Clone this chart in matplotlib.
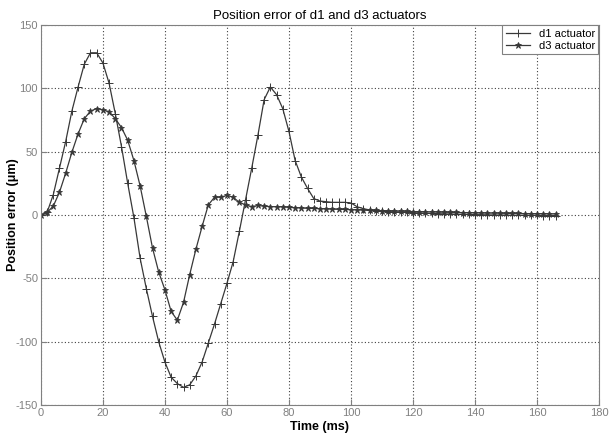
import numpy as np
import matplotlib.pyplot as plt

plt.rcParams['font.family'] = ['Liberation Sans', 'DejaVu Sans']
plt.rcParams['axes.unicode_minus'] = False

# === Data (2 ms sampling) ===
time_ms = np.arange(0, 168, 2)

d1_err = [0, 2, 16, 37, 58, 82, 101, 119, 128, 128,
          120, 104, 80, 54, 25, -2, -34, -58, -80, -100,
          -116, -128, -133, -136, -134, -127, -116, -101, -86, -70,
          -54, -37, -13, 12, 37, 63, 91, 101, 95, 84,
          66, 43, 30, 21, 13, 11, 10.5, 10, 10, 10,
          9.5, 6.5, 5, 4, 3.5, 3, 2.7, 2.4, 2.2, 2,
          1.8, 1.6, 1.4, 1.2, 1, 0.9, 0.8, 0.6, 0.5, 0.4,
          0.3, 0.2, 0.1, 0, 0, -0.1, -0.2, -0.2, -0.3, -0.3,
          -0.3, -0.4, -0.4, -0.4]

d3_err = [0, 2, 7, 18, 33, 49.5, 64, 76, 82, 84,
          83, 81.5, 76, 69, 59, 43, 23, -1, -26, -45,
          -59, -76, -83, -69, -47, -27, -9, 8, 14, 14,
          15.5, 14, 10, 8, 6.6, 7.5, 7, 6.6, 6.5, 6.4,
          6, 5.8, 5.5, 5.3, 5.2, 5, 4.8, 4.6, 4.5, 4.4,
          4.2, 4, 3.9, 3.7, 3.6, 3.4, 3.3, 3.1, 3, 2.9,
          2.7, 2.6, 2.5, 2.4, 2.3, 2.2, 2.1, 2, 1.9, 1.8,
          1.7, 1.6, 1.5, 1.5, 1.4, 1.3, 1.3, 1.2, 1.1, 1.1,
          1, 1, 0.9, 0.9]

# === Plot ===
fig = plt.figure(figsize=(6.1, 4.37), dpi=100)
ax = fig.add_axes([0.067, 0.073, 0.915, 0.870])

ax.plot(time_ms, d1_err, color='#383838', lw=0.9, marker='+', ms=5.5,
        mew=0.7, label='d1 actuator')
ax.plot(time_ms, d3_err, color='#383838', lw=0.9, marker='*', ms=4.5,
        mew=0.6, label='d3 actuator')

ax.set_xlim(0, 180)
ax.set_ylim(-150, 150)
ax.set_xticks(np.arange(0, 181, 20))
ax.set_yticks(np.arange(-150, 151, 50))
ax.grid(True, linestyle=(0, (1, 2)), color='#404040', lw=0.8)
ax.tick_params(direction='in', labelsize=8, colors='#808080', labelcolor='#808080',
               length=4, pad=2)
for s in ax.spines.values():
    s.set_color('#808080')

ax.set_title('Position error of d1 and d3 actuators', fontsize=9.5, pad=4)
ax.set_xlabel('Time (ms)', fontsize=9, fontweight='bold', labelpad=2)
ax.set_ylabel('Position error (μm)', fontsize=9, fontweight='bold')
ax.yaxis.set_label_coords(-0.040, 0.5)

leg = ax.legend(loc='upper right', fontsize=8, frameon=True, fancybox=False,
                framealpha=1, edgecolor='#808080', borderpad=0.3,
                handlelength=2.2, labelspacing=0.2, borderaxespad=0.05)
leg.get_frame().set_linewidth(0.8)

fig.savefig('out.png', dpi=100)
